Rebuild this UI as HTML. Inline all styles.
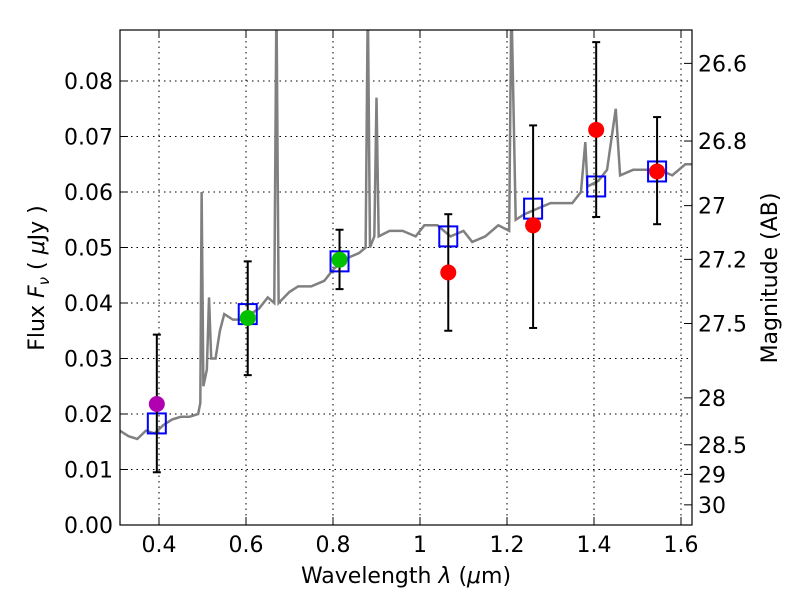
<!DOCTYPE html>
<html><head><meta charset="utf-8"><style>
body{margin:0;background:#fff;width:800px;height:600px;overflow:hidden}
svg text{font-family:"DejaVu Sans","Liberation Sans",sans-serif;font-size:22px;fill:#000}
</style></head><body>
<svg id="chart" width="800" height="600" xmlns="http://www.w3.org/2000/svg">
<defs><clipPath id="clip"><rect x="120" y="30" width="572" height="495"/></clipPath></defs>
<g id="grid"></g>
<g id="spec" clip-path="url(#clip)"></g>
<g id="marks" clip-path="url(#clip)"></g>
<rect x="120" y="30" width="572" height="495" fill="none" stroke="#000" stroke-width="1.2"/>
<g id="axes"></g>
<text x="406" y="583" text-anchor="middle">Wavelength  <tspan font-style="italic">λ</tspan> (<tspan font-style="italic">μ</tspan>m)</text>
<text transform="translate(44,278) rotate(-90)" text-anchor="middle">Flux  <tspan font-style="italic">F</tspan><tspan font-style="italic" font-size="15" dy="5">ν</tspan><tspan dy="-5">  ( </tspan><tspan font-style="italic">μ</tspan>Jy )</text>
<text transform="translate(777,278) rotate(-90)" text-anchor="middle">Magnitude (AB)</text>
</svg>
<script>
const xTicks=[0.4,0.6,0.8,1.0,1.2,1.4,1.6];
const xTickLabels=["0.4","0.6","0.8","1","1.2","1.4","1.6"];
const yTicks=[0,0.01,0.02,0.03,0.04,0.05,0.06,0.07,0.08];
const yTickLabels=["0.00","0.01","0.02","0.03","0.04","0.05","0.06","0.07","0.08"];
const magTicks=[26.6,26.8,27,27.2,27.5,28,28.5,29,30];
const magTickLabels=["26.6","26.8","27","27.2","27.5","28","28.5","29","30"];
const specWave=[0.31,0.33,0.35,0.37,0.39,0.41,0.43,0.45,0.47,0.49,0.495,0.498,0.502,0.51,0.515,0.52,0.53,0.54,0.55,0.57,0.59,0.61,0.63,0.65,0.665,0.67,0.675,0.70,0.72,0.75,0.78,0.80,0.83,0.86,0.875,0.88,0.885,0.895,0.90,0.905,0.93,0.96,0.99,1.01,1.04,1.07,1.10,1.12,1.15,1.18,1.205,1.21,1.22,1.24,1.27,1.30,1.33,1.35,1.37,1.38,1.385,1.41,1.43,1.45,1.46,1.49,1.52,1.55,1.58,1.61,1.64];
const specFlux=[0.017,0.016,0.0155,0.017,0.0165,0.018,0.019,0.0195,0.0195,0.02,0.022,0.06,0.025,0.028,0.041,0.03,0.03,0.035,0.038,0.037,0.037,0.038,0.039,0.041,0.04,0.095,0.04,0.042,0.043,0.043,0.044,0.046,0.048,0.049,0.05,0.095,0.05,0.052,0.077,0.052,0.053,0.053,0.052,0.054,0.054,0.052,0.053,0.051,0.052,0.054,0.053,0.095,0.055,0.056,0.057,0.058,0.058,0.058,0.06,0.069,0.061,0.062,0.064,0.075,0.063,0.064,0.064,0.064,0.063,0.065,0.065];
const ptWave=[0.395,0.604,0.815,1.065,1.26,1.405,1.545];
const ptFlux=[0.0218,0.0373,0.0478,0.0455,0.054,0.0712,0.0637];
const ptLo=[0.0095,0.027,0.0425,0.035,0.0355,0.0555,0.0542];
const ptHi=[0.0343,0.0475,0.0532,0.056,0.072,0.087,0.0735];
const ptColor=["#b000b0","#00c000","#00c000","#ff0000","#ff0000","#ff0000","#ff0000"];
const boxFlux=[0.0183,0.038,0.0475,0.052,0.057,0.061,0.0637];

const X=v=>159+(v-0.4)*435;
const Y=v=>525-v*5550;
const NS="http://www.w3.org/2000/svg";
function mk(p,t,a){const e=document.createElementNS(NS,t);for(const k in a)e.setAttribute(k,a[k]);p.appendChild(e);return e;}
const grid=document.getElementById('grid'),axes=document.getElementById('axes');
xTicks.forEach((t,i)=>{
 const g=mk(grid,'line',{x1:X(t),x2:X(t),y1:30,y2:525,stroke:'#000','stroke-dasharray':'1.5,4','stroke-width':1});
 
 mk(axes,'line',{x1:X(t),x2:X(t),y1:525,y2:517,stroke:'#000'});
 mk(axes,'line',{x1:X(t),x2:X(t),y1:30,y2:38,stroke:'#000'});
 const l=mk(axes,'text',{x:X(t),y:552,'text-anchor':'middle'});l.textContent=xTickLabels[i];
 
});
yTicks.forEach((t,i)=>{
 const g=mk(grid,'line',{x1:120,x2:692,y1:Y(t),y2:Y(t),stroke:'#000','stroke-dasharray':'1.5,4','stroke-width':1});
 
 mk(axes,'line',{x1:120,x2:128,y1:Y(t),y2:Y(t),stroke:'#000'});
 const l=mk(axes,'text',{x:113,y:Y(t)+8,'text-anchor':'end'});l.textContent=yTickLabels[i];
 
});
magTicks.forEach((m,i)=>{
 const y=Y(Math.pow(10,(23.9-m)/2.5));
 mk(axes,'line',{x1:692,x2:684,y1:y,y2:y,stroke:'#000'});
 const l=mk(axes,'text',{x:698,y:y+8});l.textContent=magTickLabels[i];
 
});
const sp=mk(document.getElementById('spec'),'polyline',{points:specWave.map((w,i)=>X(w)+','+Y(specFlux[i])).join(' '),fill:'none',stroke:'#808080','stroke-width':2.5});

const mg=document.getElementById('marks');
ptWave.forEach((w,i)=>{
 const x=X(w);
 const b=mk(mg,'rect',{x:x-9,y:Y(boxFlux[i])-10,width:18,height:20,fill:'none',stroke:'#0000ff','stroke-width':2});
 
 const e=mk(mg,'g',{stroke:'#000','stroke-width':2});
 
 mk(e,'line',{x1:x,x2:x,y1:Y(ptLo[i]),y2:Y(ptHi[i])});
 mk(e,'line',{x1:x-4,x2:x+4,y1:Y(ptLo[i]),y2:Y(ptLo[i])});
 mk(e,'line',{x1:x-4,x2:x+4,y1:Y(ptHi[i]),y2:Y(ptHi[i])});
 const c=mk(mg,'circle',{cx:x,cy:Y(ptFlux[i]),r:8,fill:ptColor[i]});
 
});
</script>
</body></html>
